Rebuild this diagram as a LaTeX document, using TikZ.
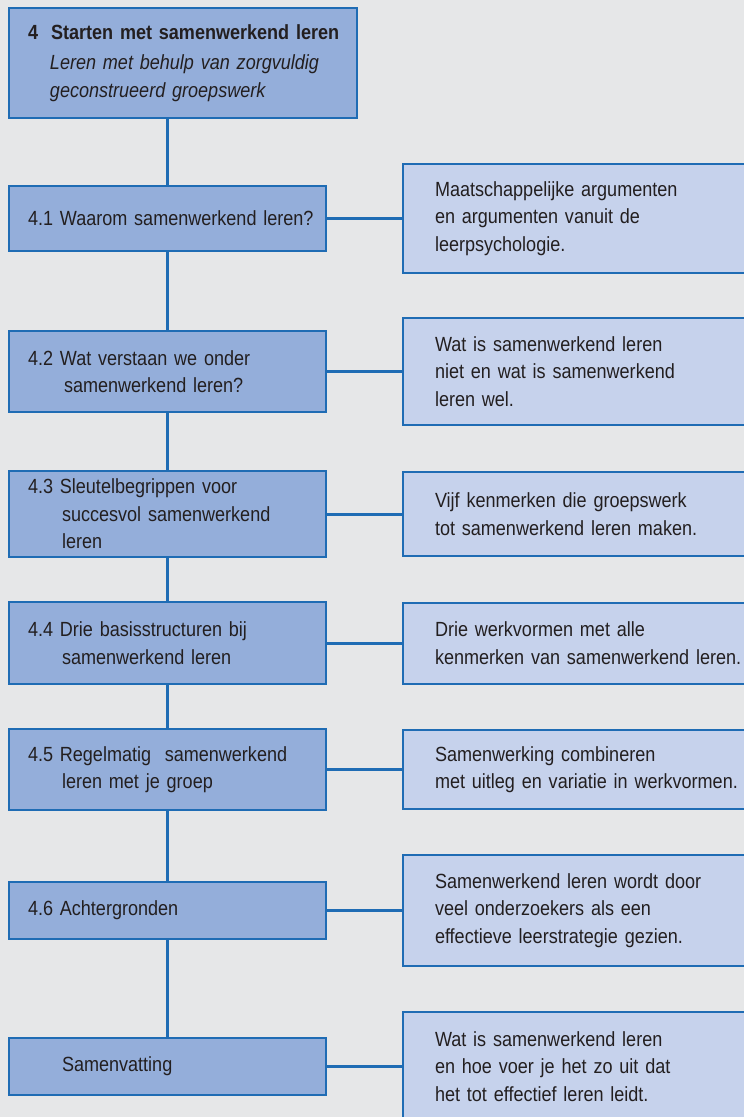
\documentclass[tikz,border=0pt]{standalone}
\usepackage{fontspec}
\setmainfont{Liberation Sans}[FakeStretch=0.88,WordSpace=0.75]
\usetikzlibrary{positioning}
\definecolor{bggray}{HTML}{E6E7E8}
\definecolor{boxblue}{HTML}{94AEDA}
\definecolor{noteblue}{HTML}{C6D2EC}
\definecolor{lineblue}{HTML}{1F6CB4}
\definecolor{txtgray}{HTML}{231F20}
\def\boxwidth{317pt}
\def\notewidth{394pt}
\def\hang{34pt}

\begin{document}
\begin{tikzpicture}[x=1pt,y=-1pt,
    node distance=75pt,
    link/.style={draw=lineblue,line width=3pt}]
    \fontsize{20.5}{27.5}\selectfont
    \tikzstyle{box}=[rectangle,draw=lineblue,line width=2pt,text=txtgray,align=left,inner ysep=0pt]
    \tikzstyle{chapbox}=[box,fill=boxblue,minimum width=348pt,minimum height=110pt,text width=310pt,inner xsep=19pt]
    \tikzstyle{secbox}=[box,fill=boxblue,minimum width=\boxwidth,text width=279pt,inner xsep=19pt]
    \tikzstyle{notebox}=[box,fill=noteblue,minimum width=\notewidth,text width=330pt,inner xsep=32pt]

    % Background
    \useasboundingbox (0,0) rectangle (744,1117);
    \fill[bggray] (0,0) rectangle (744,1117);

    % Draw the chapter node
    \node[chapbox] (L0) at (183,63) {\mbox{\textbf{4\hspace{13pt}Starten met samenwerkend leren}}\\[3pt]
        \hspace*{22pt}\textit{Leren met behulp van zorgvuldig}\\
        \hspace*{22pt}\textit{geconstrueerd groepswerk}};

    % Draw the section nodes
    \node[secbox,minimum height=65pt] (L1) at (167.5,218.5) {\mbox{4.1 Waarom samenwerkend leren?}};
    \node[secbox,minimum height=81pt] (L2) at (167.5,371.5) {4.2 Wat verstaan we onder\\\hspace*{36pt}samenwerkend leren?};
    \node[secbox,minimum height=86pt] (L3) at (167.5,514) {4.3 Sleutelbegrippen voor\\\hspace*{\hang}succesvol samenwerkend\\\hspace*{\hang}leren};
    \node[secbox,minimum height=82pt] (L4) at (167.5,643) {4.4 Drie basisstructuren bij\\\hspace*{\hang}samenwerkend leren};
    \node[secbox,minimum height=81pt] (L5) at (167.5,769.5) {4.5 Regelmatig~ samenwerkend\\\hspace*{\hang}leren met je groep};
    \node[secbox,minimum height=57pt] (L6) at (167.5,910.5) {4.6 Achtergronden};
    \node[secbox,minimum height=57pt] (L7) at (167.5,1066.5) {\hspace*{\hang}Samenvatting};

    % Draw the note nodes
    \node[notebox,minimum height=109pt,right=of L1] (R1) {Maatschappelijke argumenten\\en argumenten vanuit de\\leerpsychologie.};
    \node[notebox,minimum height=107pt,right=of L2] (R2) {Wat is samenwerkend leren\\niet en wat is samenwerkend\\leren wel.};
    \node[notebox,minimum height=84pt,right=of L3] (R3) {Vijf kenmerken die groepswerk\\tot samenwerkend leren maken.};
    \node[notebox,minimum height=81pt,right=of L4] (R4) {Drie werkvormen met alle\\kenmerken van samenwerkend leren.};
    \node[notebox,minimum height=79pt,right=of L5] (R5) {Samenwerking combineren\\met uitleg en variatie in werkvormen.};
    \node[notebox,minimum height=111pt,right=of L6] (R6) {Samenwerkend leren wordt door\\veel onderzoekers als een\\effectieve leerstrategie gezien.};
    \node[notebox,minimum height=110pt,right=of L7] (R7) {Wat is samenwerkend leren\\en hoe voer je het zo uit dat\\het tot effectief leren leidt.};

    % Connect the sections along the trunk
    \foreach \a/\b in {0/1,1/2,2/3,3/4,4/5,5/6,6/7}
        \draw[link] (L\b.north |- L\a.south) -- (L\b.north);

    % Connect every section with its note
    \foreach \i in {1,...,7}
        \draw[link] (L\i) -- (R\i);
\end{tikzpicture}
\end{document}
